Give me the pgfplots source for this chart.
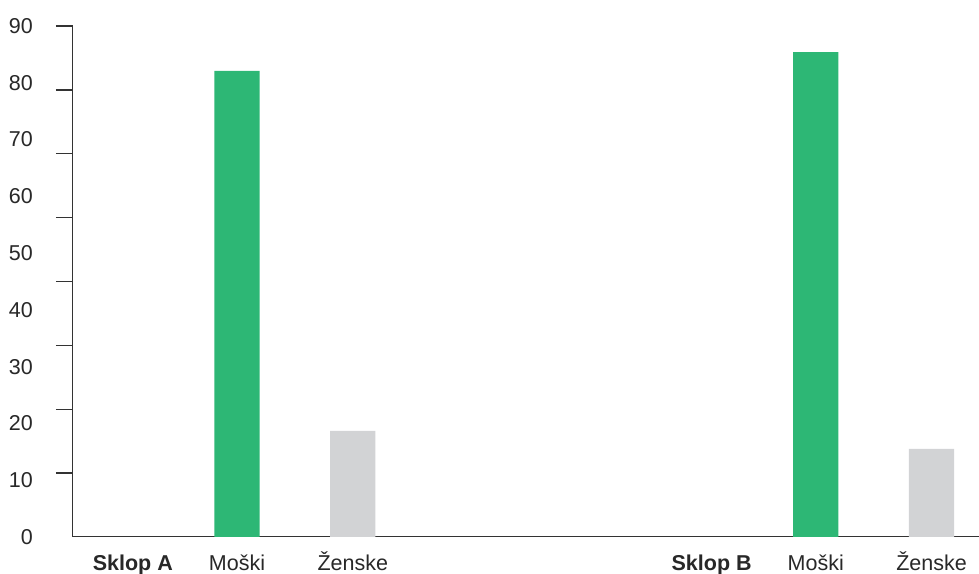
\documentclass[border=0pt]{standalone}
\usepackage{pgfplots}
\pgfplotsset{compat=1.18}
\usepackage{fontspec}
\setmainfont{Liberation Sans}
\usetikzlibrary{calc}
\definecolor{barGreen}{RGB}{45,183,117}
\definecolor{barGrey}{RGB}{210,211,213}
\definecolor{axisCol}{RGB}{51,51,51}
\definecolor{txtCol}{RGB}{40,40,40}
\begin{document}
\begin{tikzpicture}
\begin{axis}[
  scale only axis,
  width=906pt, height=511pt,
  xmin=-0.417, xmax=7.41,
  ymin=0, ymax=90,
  axis x line=bottom, axis y line=left,
  x axis line style={-, color=axisCol, line width=1pt},
  y axis line style={-, color=axisCol, line width=1pt},
  xtick={0.10,1,2,5.10,6,7},
  xticklabels={\textbf{Sklop A},Moški,Ženske,\textbf{Sklop B},Moški,Ženske},
  xtick style={draw=none},
  xticklabel style={anchor=base, inner sep=0pt, yshift=-16.5pt},
  ytick={11.25,22.5,33.75,45,56.25,67.5,78.75,90},
  yticklabels={},
  tick align=outside,
  major tick length=17pt,
  ytick style={draw=axisCol, line width=1.4pt},
  extra y ticks={0,10,...,90},
  extra y tick style={major tick length=0pt, tick style={draw=none}},
  yticklabel style={anchor=east, inner sep=0pt, xshift=-40pt},
  tick label style={font=\fontsize{21.5}{26}\selectfont, text=txtCol},
  /pgf/number format/assume math mode=true,
  clip=false,
]
\addplot[ybar, bar width=0.39, bar shift=0pt, fill=barGreen, draw=none] coordinates {(1,82.1) (6,85.4)};
\addplot[ybar, bar width=0.39, bar shift=0pt, fill=barGrey, draw=none] coordinates {(2,18.7) (7,15.5)};
\end{axis}
\pgfresetboundingbox
\path[use as bounding box] ($(current axis.south west)+(-73pt,-37pt)$) rectangle ($(current axis.north east)+(0pt,26pt)$);
\end{tikzpicture}
\end{document}
